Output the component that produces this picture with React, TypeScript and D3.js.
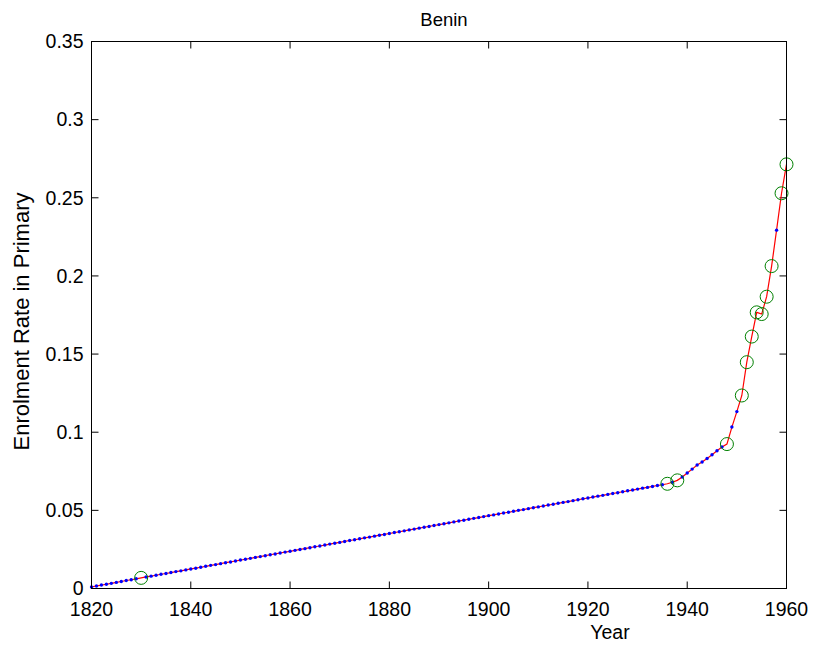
import React from "react";
import * as d3 from "d3";

const startYear = 1820;
const endYear = 1960;
// Enrolment rate for every year 1820..1960
const rates: number[] = [
  0.0010, 0.0016, 0.0022, 0.0027, 0.0033, 0.0039, 0.0045, 0.0051, 0.0056, 0.0062,
  0.0068, 0.0074, 0.0079, 0.0085, 0.0091, 0.0096, 0.0102, 0.0108, 0.0113, 0.0119,
  0.0125, 0.0130, 0.0136, 0.0142, 0.0148, 0.0153, 0.0159, 0.0165, 0.0170, 0.0176,
  0.0182, 0.0187, 0.0193, 0.0199, 0.0204, 0.0210, 0.0216, 0.0221, 0.0227, 0.0233,
  0.0238, 0.0244, 0.0250, 0.0255, 0.0261, 0.0267, 0.0272, 0.0278, 0.0284, 0.0290,
  0.0295, 0.0301, 0.0307, 0.0312, 0.0318, 0.0324, 0.0329, 0.0335, 0.0341, 0.0346,
  0.0352, 0.0358, 0.0363, 0.0369, 0.0375, 0.0380, 0.0386, 0.0392, 0.0397, 0.0403,
  0.0409, 0.0414, 0.0420, 0.0426, 0.0432, 0.0437, 0.0443, 0.0449, 0.0454, 0.0460,
  0.0466, 0.0471, 0.0477, 0.0483, 0.0488, 0.0494, 0.0500, 0.0505, 0.0511, 0.0517,
  0.0522, 0.0528, 0.0534, 0.0539, 0.0545, 0.0551, 0.0556, 0.0562, 0.0568, 0.0574,
  0.0579, 0.0585, 0.0591, 0.0596, 0.0602, 0.0608, 0.0613, 0.0619, 0.0625, 0.0630,
  0.0636, 0.0642, 0.0647, 0.0653, 0.0659, 0.0664, 0.0670, 0.0680, 0.0692, 0.0713,
  0.0739, 0.0764, 0.0790, 0.0809, 0.0832, 0.0856, 0.0881, 0.0905, 0.0924, 0.1033,
  0.1132, 0.1235, 0.1448, 0.1612, 0.1767, 0.1756, 0.1867, 0.2063, 0.2293, 0.2529,
  0.2714,
];
// Years with actual observations (green circles)
const observedYears: number[] = [1830, 1936, 1938, 1948, 1951, 1952, 1953, 1954, 1955, 1956, 1957, 1959, 1960];

const xTicks = [1820, 1840, 1860, 1880, 1900, 1920, 1940, 1960];
const yTicks = [0, 0.05, 0.1, 0.15, 0.2, 0.25, 0.3, 0.35];
const yTickLabels = ["0", "0.05", "0.1", "0.15", "0.2", "0.25", "0.3", "0.35"];

const W = 816;
const H = 649;
const left = 91.5;
const right = 786.5;
const top = 41.5;
const bottom = 588.5;
const FONT = "'Liberation Sans', Arial, Helvetica, sans-serif";

export default function App() {
  const x = d3.scaleLinear().domain([startYear, endYear]).range([left, right]);
  const y = d3.scaleLinear().domain([0, 0.35]).range([bottom, top]);
  const data = rates.map((v, i) => ({ year: startYear + i, v }));
  const line = d3.line<{ year: number; v: number }>().x(d => x(d.year)).y(d => y(d.v));
  const obsSet = new Set(observedYears);
  const interp = data.filter(d => !obsSet.has(d.year));
  const obs = data.filter(d => obsSet.has(d.year));
  const tl = 7;

  return (
    <svg width={W} height={H} style={{ position: "absolute", left: 0, top: 0, background: "#fff" }} fontFamily={FONT}>
      <rect x={0} y={0} width={W} height={H} fill="#fff" />
      {/* ticks */}
      {xTicks.map(t => (
        <g key={"x" + t}>
          <line x1={x(t)} x2={x(t)} y1={bottom} y2={bottom - tl} stroke="#000" />
          <line x1={x(t)} x2={x(t)} y1={top} y2={top + tl} stroke="#000" />
          <text x={x(t)} y={615.5} textAnchor="middle" fontSize={19.5}>{t}</text>
        </g>
      ))}
      {yTicks.map((t, i) => (
        <g key={"y" + t}>
          <line x1={left} x2={left + tl} y1={y(t)} y2={y(t)} stroke="#000" />
          <line x1={right} x2={right - tl} y1={y(t)} y2={y(t)} stroke="#000" />
          <text x={83.5} y={y(t)} dy="0.35em" textAnchor="end" fontSize={19.5}>{yTickLabels[i]}</text>
        </g>
      ))}
      {/* data */}
      <path d={line(data) || ""} fill="none" stroke="#ff0000" strokeWidth={1.2} />
      {interp.map(d => (
        <circle key={"b" + d.year} cx={x(d.year)} cy={y(d.v)} r={1.7} fill="#0000ff" />
      ))}
      {obs.map(d => (
        <circle key={"g" + d.year} cx={x(d.year)} cy={y(d.v)} r={6.5} fill="none" stroke="#008000" strokeWidth={1} />
      ))}
      {/* box */}
      <rect x={left} y={top} width={right - left} height={bottom - top} fill="none" stroke="#000" strokeWidth={1} />
      {/* labels */}
      <text x={444} y={26} textAnchor="middle" fontSize={18.5}>Benin</text>
      <text x={610} y={639} textAnchor="middle" fontSize={19.5}>Year</text>
      <text transform={`translate(28.5, 321.5) rotate(-90)`} textAnchor="middle" fontSize={22}>Enrolment Rate in Primary</text>
    </svg>
  );
}
